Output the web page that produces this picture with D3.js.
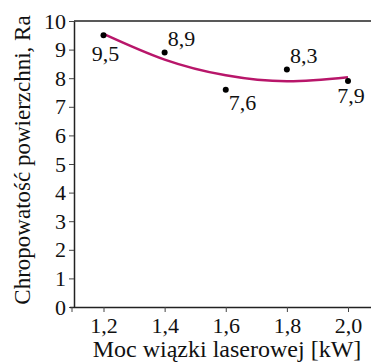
<!DOCTYPE html>
<html>
<head>
<meta charset="utf-8">
<script src="https://cdn.jsdelivr.net/npm/d3@7"></script>
<style>
  body { margin: 0; background: #fff; }
  svg { display: block; }
  svg text { font-family: "Liberation Serif", "DejaVu Serif", serif; }
</style>
</head>
<body>
<div class="canvas"></div>
<script>
// data
const power = [1.2, 1.4, 1.6, 1.8, 2.0];
const roughness = [9.5, 8.9, 7.6, 8.3, 7.9];
const pointLabels = ["9,5", "8,9", "7,6", "8,3", "7,9"];
const trendValues = [9.55, 8.65, 8.1, 7.89, 8.03];
const xTicks = [1.2, 1.4, 1.6, 1.8, 2.0];
const xTickLabels = ["1,2", "1,4", "1,6", "1,8", "2,0"];
const yTicks = [0, 1, 2, 3, 4, 5, 6, 7, 8, 9, 10];

const dims = {width: 371, height: 363};
const plot = {left: 74, right: 371, top: 21, bottom: 307};

const svg = d3.select(".canvas")
    .append("svg")
    .attr("width", dims.width)
    .attr("height", dims.height);

const x = d3.scaleLinear()
    .domain([1.2, 2.0])
    .range([103.5, 348]);
const y = d3.scaleLinear()
    .domain([0, 10])
    .range([plot.bottom, plot.top]);

// top frame line
svg.append("line")
    .attr("x1", plot.left).attr("x2", plot.right)
    .attr("y1", plot.top).attr("y2", plot.top)
    .attr("stroke", "#222").attr("stroke-width", 1.5);

// y axis
const yAxis = svg.append("g")
    .attr("transform", `translate(${plot.left},0)`)
    .call(d3.axisLeft(y).tickValues(yTicks).tickSize(5).tickPadding(3).tickSizeOuter(0));
yAxis.attr("font-family", null);
yAxis.select(".domain").attr("stroke", "#222").attr("stroke-width", 1.5);
yAxis.selectAll("line").attr("stroke", "#444");
yAxis.selectAll("text")
    .style("font-size", "22px")
    .attr("fill", "#111");

// x axis
const xAxis = svg.append("g")
    .attr("transform", `translate(0,${plot.bottom})`)
    .call(d3.axisBottom(x).tickValues(xTicks).tickFormat((d, i) => xTickLabels[i]).tickSize(5).tickPadding(5).tickSizeOuter(0));
xAxis.attr("font-family", null);
xAxis.select(".domain")
    .attr("d", `M${plot.left - 4},0.5H${plot.right}`)
    .attr("stroke", "#222").attr("stroke-width", 1.5);
xAxis.selectAll("line").attr("stroke", "#444");
xAxis.selectAll("text")
    .style("font-size", "22px")
    .attr("fill", "#111");
xAxis.append("line")
    .attr("x1", plot.left - 2).attr("x2", plot.left - 2)
    .attr("y1", 0).attr("y2", 5)
    .attr("stroke", "#444");

// axis titles
svg.append("text")
    .attr("x", 227)
    .attr("y", 357)
    .attr("text-anchor", "middle")
    .style("font-size", "24px")
    .attr("fill", "#111")
    .text("Moc wiązki laserowej [kW]");

svg.append("text")
    .attr("transform", `translate(30,160) rotate(-90)`)
    .attr("text-anchor", "middle")
    .style("font-size", "23px")
    .attr("fill", "#111")
    .text("Chropowatość powierzchni, Ra");

// trend curve
const line = d3.line()
    .x((d, i) => x(power[i]))
    .y(d => y(d))
    .curve(d3.curveNatural);

svg.append("path")
    .datum(trendValues)
    .attr("d", line)
    .attr("fill", "none")
    .attr("stroke", "#b8166a")
    .attr("stroke-width", 2.5);

// points
svg.selectAll("circle.pt")
    .data(roughness)
    .enter()
    .append("circle")
    .attr("class", "pt")
    .attr("cx", (d, i) => x(power[i]))
    .attr("cy", d => y(d))
    .attr("r", 3)
    .attr("fill", "#000");

// point labels: offsets relative to each point
const labelOffsets = [[2, 26, "middle"], [3, -6, "start"], [3, 20, "start"], [3, -7, "start"], [3, 22, "middle"]];
svg.selectAll("text.pt-label")
    .data(roughness)
    .enter()
    .append("text")
    .attr("class", "pt-label")
    .attr("x", (d, i) => x(power[i]) + labelOffsets[i][0])
    .attr("y", (d, i) => y(d) + labelOffsets[i][1])
    .attr("text-anchor", (d, i) => labelOffsets[i][2])
    .style("font-size", "22px")
    .attr("fill", "#111")
    .text((d, i) => pointLabels[i]);
</script>
</body>
</html>
